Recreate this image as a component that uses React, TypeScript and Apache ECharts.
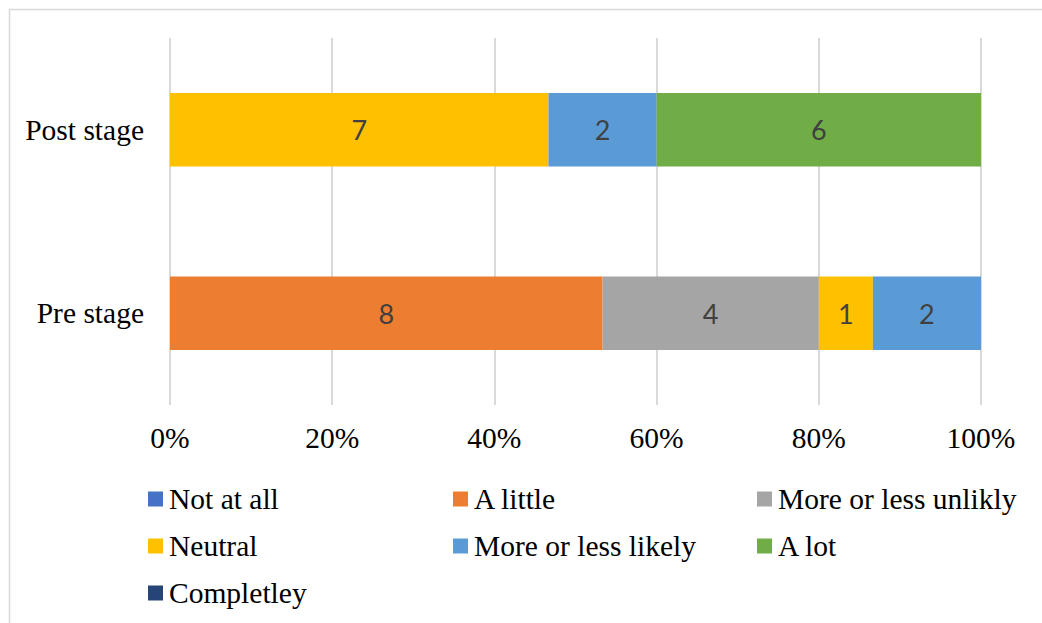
import React, { useEffect, useRef } from "react";
import * as echarts from "echarts";

const categories = ["Pre stage", "Post stage"];
const seriesNames = [
  "Not at all",
  "A little",
  "More or less unlikly",
  "Neutral",
  "More or less likely",
  "A lot",
  "Completley",
];
// counts per series, [Pre stage, Post stage]
const notAtAll = [0, 0];
const aLittle = [8, 0];
const moreOrLessUnlikely = [4, 0];
const neutral = [1, 7];
const moreOrLessLikely = [2, 2];
const aLot = [0, 6];
const completley = [0, 0];
const xTicks = [0, 20, 40, 60, 80, 100];

const colors = ["#4472C4", "#ED7D31", "#A5A5A5", "#FFC000", "#5B9BD5", "#70AD47", "#264478"];

export default function App() {
  const ref = useRef<HTMLDivElement>(null);
  useEffect(() => {
    if (!ref.current) return;
    const chart = echarts.init(ref.current, null, { renderer: "svg" });
    const counts = [notAtAll, aLittle, moreOrLessUnlikely, neutral, moreOrLessLikely, aLot, completley];
    const totals = categories.map((_, i) => counts.reduce((s, arr) => s + arr[i], 0));
    const serif = "Liberation Serif";
    const fs = 29.5;

    const legendPos = [
      [148, 484],
      [453, 484],
      [757, 484],
      [148, 531],
      [453, 531],
      [757, 531],
      [148, 578],
    ];

    chart.setOption({
      animation: false,
      color: colors,
      graphic: [
        {
          type: "rect",
          shape: { x: 9.5, y: 9.5, width: 1100, height: 700 },
          style: { fill: "none", stroke: "#d9d9d9", lineWidth: 1.5 },
          silent: true,
        },
      ],
      grid: { left: 170, right: 61, top: 38, bottom: 218 },
      legend: seriesNames.map((name, i) => ({
        data: [name],
        left: legendPos[i][0],
        top: legendPos[i][1],
        itemWidth: 15,
        itemHeight: 15,
        icon: "rect",
        padding: 0,
        itemGap: 0,
        selectedMode: false,
        textStyle: { fontFamily: serif, fontSize: fs, color: "#000", padding: [0, 0, 0, 1] },
      })),
      xAxis: {
        type: "value",
        min: xTicks[0],
        max: xTicks[xTicks.length - 1],
        interval: xTicks[1] - xTicks[0],
        axisLine: { show: false },
        axisTick: { show: false },
        splitLine: { lineStyle: { color: "#d9d9d9", width: 2 } },
        axisLabel: {
          formatter: "{value}%",
          fontFamily: serif,
          fontSize: fs,
          color: "#000",
          margin: 18,
        },
      },
      yAxis: {
        type: "category",
        data: categories,
        axisLine: { show: false },
        axisTick: { show: false },
        axisLabel: { fontFamily: serif, fontSize: fs, color: "#000", margin: 26 },
      },
      series: seriesNames.map((name, si) => ({
        name,
        type: "bar",
        stack: "total",
        barCategoryGap: "60%",
        data: counts[si].map((c, ci) => (totals[ci] ? (c / totals[ci]) * 100 : 0)),
        label: {
          show: true,
          position: "inside",
          fontFamily: "Lato",
          fontSize: 27,
          color: "#404040",
          formatter: (p: any) => {
            const c = counts[si][p.dataIndex];
            return c ? String(c) : "";
          },
        },
        itemStyle: { color: colors[si] },
      })),
    });
    return () => chart.dispose();
  }, []);
  return (
    <div
      ref={ref}
      style={{ position: "fixed", left: 0, top: 0, width: 1042, height: 623, background: "#fff" }}
    />
  );
}
